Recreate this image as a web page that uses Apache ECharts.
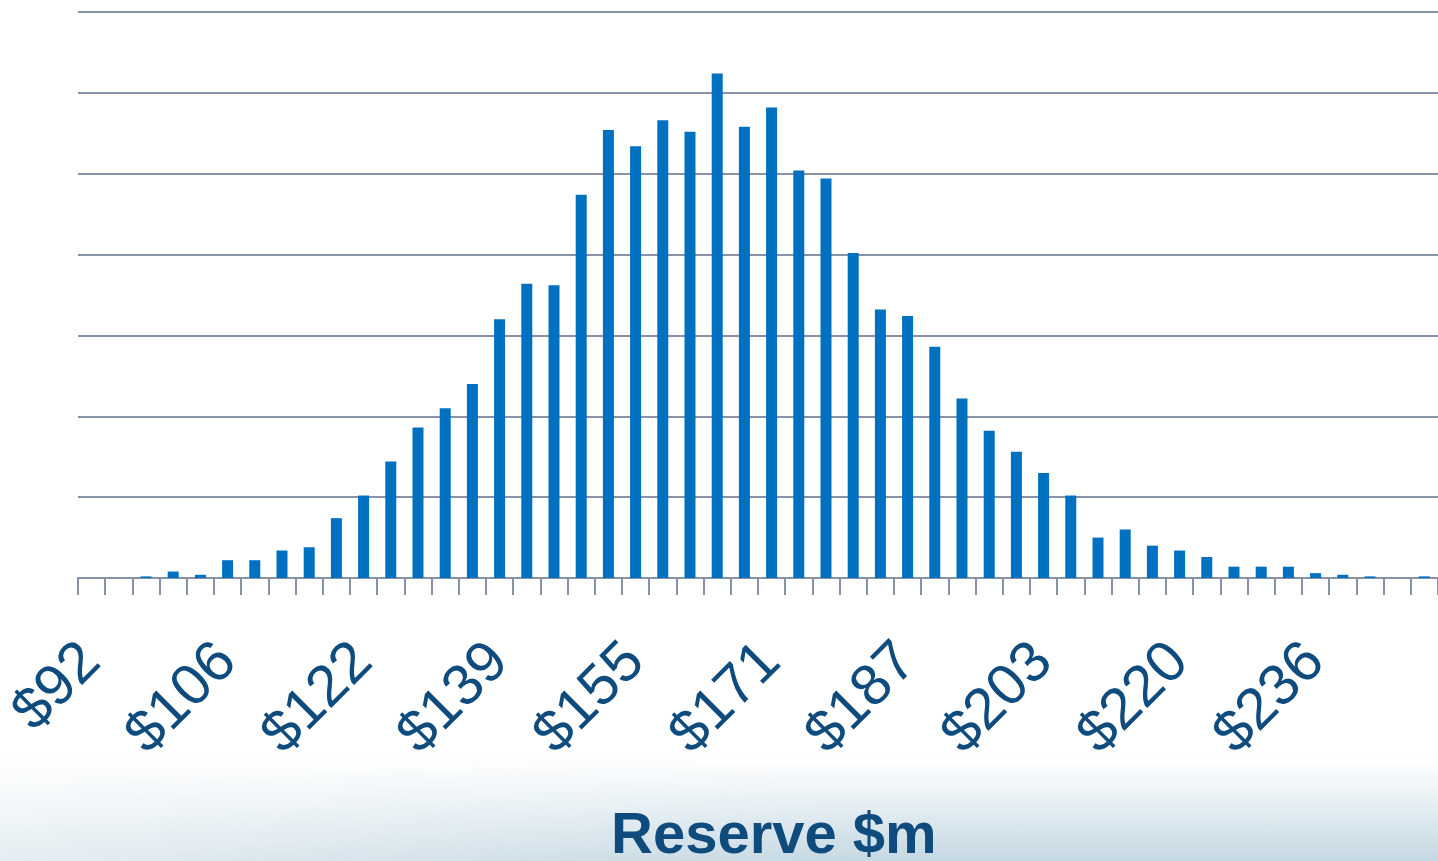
<!DOCTYPE html>
<html>
<head>
<meta charset="utf-8">
<title>Reserve distribution</title>
<script src="https://cdn.jsdelivr.net/npm/echarts@6/dist/echarts.min.js"></script>
<style>
  html, body { margin: 0; padding: 0; }
  body {
    width: 1438px; height: 861px; overflow: hidden;
    background:
      linear-gradient(to right, rgba(255,255,255,0.55) 0%, rgba(255,255,255,0) 60%),
      linear-gradient(to bottom, #ffffff 0%, #ffffff 88%, #e3edf2 94%, #c5d8e2 100%);
  }
  #chart { width: 1438px; height: 861px; }
</style>
</head>
<body>
<div id="chart"></div>
<script>
// Reserve bins ($m); only every fifth label is printed on the axis
const reserveBins = [
  '$92', '$95', '$98', '$100', '$103',
  '$106', '$109', '$112', '$116', '$119',
  '$122', '$125', '$129', '$132', '$135',
  '$139', '$142', '$145', '$148', '$152',
  '$155', '$158', '$161', '$165', '$168',
  '$171', '$174', '$177', '$181', '$184',
  '$187', '$190', '$193', '$197', '$200',
  '$203', '$207', '$210', '$213', '$216',
  '$220', '$223', '$226', '$229', '$233',
  '$236', '$239', '$242', '$246', '$249'
];

// Simulation counts per bin
const frequency = [
  0, 0, 1, 4, 2,
  11, 11, 17, 19, 37,
  51, 72, 93, 105, 120,
  160, 182, 181, 237, 277,
  267, 283, 276, 312, 279,
  291, 252, 247, 201, 166,
  162, 143, 111, 91, 78,
  65, 51, 25, 30, 20,
  17, 13, 7, 7, 7,
  3, 2, 1, 0, 1
];

const axisTitle = 'Reserve $m';

const chart = echarts.init(document.getElementById('chart'), null, { renderer: 'canvas' });

const lineColor = '#8792a7';
const textColor = '#0f4c7d';

chart.setOption({
  backgroundColor: 'transparent',
  animation: false,
  grid: {
    left: 78,
    top: 12,
    width: 1367.5,
    height: 566,
    containLabel: false
  },
  xAxis: {
    type: 'category',
    data: reserveBins,
    boundaryGap: true,
    axisLine: { show: true, lineStyle: { color: lineColor, width: 2 } },
    axisTick: { show: true, interval: 0, length: 17, lineStyle: { color: lineColor, width: 2 } },
    axisLabel: {
      interval: 4,
      rotate: 45,
      margin: 75,
      color: textColor,
      fontFamily: 'Liberation Sans, Arial, sans-serif',
      fontSize: 58
    }
  },
  yAxis: {
    type: 'value',
    min: 0,
    max: 350,
    interval: 50,
    axisLine: { show: false },
    axisTick: { show: false },
    axisLabel: { show: false },
    splitLine: { show: true, lineStyle: { color: lineColor, width: 2 } }
  },
  graphic: [{
    type: 'text',
    left: 611,
    top: 808,
    style: {
      text: axisTitle,
      fill: textColor,
      font: 'bold 58px "Liberation Sans", Arial, sans-serif'
    }
  }],
  series: [{
    type: 'bar',
    data: frequency,
    barWidth: 11,
    itemStyle: { color: '#0070c0' }
  }]
});
</script>
</body>
</html>
